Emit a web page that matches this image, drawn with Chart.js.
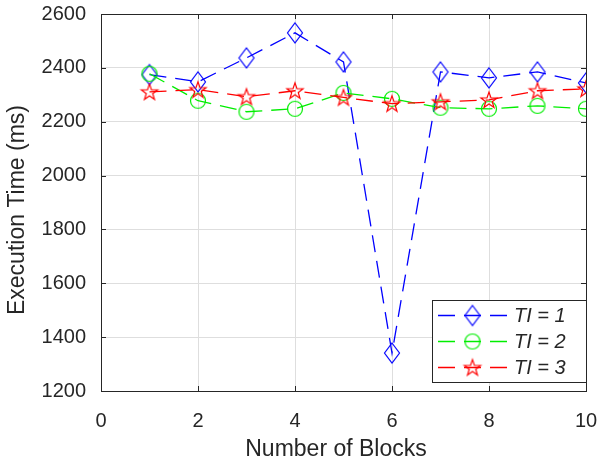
<!DOCTYPE html>
<html><head><meta charset="utf-8">
<script src="https://cdn.jsdelivr.net/npm/chart.js@4.4.1/dist/chart.umd.min.js"></script>
<style>html,body{margin:0;padding:0;background:#fff}#wrap{width:600px;height:462px;position:relative}</style>
</head><body><div id="wrap"><canvas id="c" width="600" height="462"></canvas></div>
<script>
// ---- data ----
const blocks = [1, 2, 3, 4, 5, 6, 7, 8, 9, 10];
const ti1 = [2375, 2348, 2437, 2530, 2422, 1341, 2385, 2363, 2385, 2344];
const ti2 = [2378, 2278, 2237, 2248, 2307, 2285, 2252, 2248, 2259, 2248];
const ti3 = [2311, 2319, 2293, 2315, 2290, 2267, 2274, 2281, 2315, 2322];
const seriesNames = ['TI = 1', 'TI = 2', 'TI = 3'];
const xTitle = 'Number of Blocks';
const yTitle = 'Execution Time (ms)';

const TXT = '#262626';
const FONT = '"Liberation Sans", Arial, Helvetica, sans-serif';
const DASH = [17, 9];

function makeMarker(kind, color) {
  const c = document.createElement('canvas');
  c.width = 26; c.height = 26;
  const g = c.getContext('2d');
  g.strokeStyle = color; g.lineWidth = 1.2; g.lineJoin = 'miter';
  const cx = 13, cy = 13;
  g.beginPath();
  if (kind === 'diamond') {
    g.moveTo(cx, cy - 10); g.lineTo(cx + 7.5, cy); g.lineTo(cx, cy + 10); g.lineTo(cx - 7.5, cy); g.closePath();
  } else if (kind === 'circle') {
    g.arc(cx, cy, 7.5, 0, Math.PI * 2);
  } else {
    const R = 8.5, r = 3.4;
    for (let i = 0; i < 10; i++) {
      const a = -Math.PI / 2 + i * Math.PI / 5;
      const rad = i % 2 === 0 ? R : r;
      const px = cx + rad * Math.cos(a), py = cy + 0.6 + rad * Math.sin(a);
      if (i === 0) g.moveTo(px, py); else g.lineTo(px, py);
    }
    g.closePath();
  }
  g.stroke();
  return c;
}
const colors = ['#0000ff', '#00ee00', '#ff0000'];
const markers = [makeMarker('diamond', colors[0]), makeMarker('circle', colors[1]), makeMarker('star', colors[2])];
const seriesValues = [ti1, ti2, ti3];

const datasets = seriesValues.map((vals, i) => ({
  label: seriesNames[i],
  data: blocks.map((b, k) => ({ x: b, y: vals[k] })),
  borderColor: colors[i],
  backgroundColor: 'rgba(0,0,0,0)',
  borderWidth: 1.3,
  borderDash: DASH,
  pointStyle: markers[i],
  pointRadius: 8,
  tension: 0,
  order: 3 - i
}));

const framePlugin = {
  id: 'frame',
  afterDraw(chart) {
    const ctx = chart.ctx, a = chart.chartArea;
    const xs = chart.scales.x, ys = chart.scales.y;
    ctx.save();
    // box
    ctx.strokeStyle = TXT; ctx.lineWidth = 1; ctx.setLineDash([]);
    ctx.strokeRect(Math.round(a.left) + 0.5, Math.round(a.top) + 0.5, Math.round(a.right - a.left), Math.round(a.bottom - a.top));
    // inward ticks
    ctx.beginPath();
    xs.ticks.forEach(t => {
      const px = Math.round(xs.getPixelForValue(t.value)) + 0.5;
      ctx.moveTo(px, a.bottom); ctx.lineTo(px, a.bottom - 5);
      ctx.moveTo(px, a.top); ctx.lineTo(px, a.top + 5);
    });
    ys.ticks.forEach(t => {
      const py = Math.round(ys.getPixelForValue(t.value)) + 0.5;
      ctx.moveTo(a.left, py); ctx.lineTo(a.left + 5, py);
      ctx.moveTo(a.right, py); ctx.lineTo(a.right - 5, py);
    });
    ctx.stroke();
    // axis titles
    ctx.fillStyle = TXT;
    ctx.font = '23px ' + FONT;
    ctx.textAlign = 'center'; ctx.textBaseline = 'alphabetic';
    ctx.fillText(xTitle, 336, 456);
    ctx.save();
    ctx.translate(24, 210); ctx.rotate(-Math.PI / 2);
    ctx.fillText(yTitle, 0, 0);
    ctx.restore();
    // legend
    const lx = 432, ly = 300, lw = 154, lh = 82;
    ctx.fillStyle = '#fff';
    ctx.fillRect(lx, ly, lw, lh);
    ctx.strokeStyle = TXT; ctx.lineWidth = 1;
    ctx.strokeRect(lx + 0.5, ly + 0.5, lw, lh);
    const rows = [315, 341, 367];
    seriesNames.forEach((name, i) => {
      const y = rows[i] + 0.5;
      ctx.strokeStyle = colors[i]; ctx.lineWidth = 1.3;
      ctx.setLineDash(DASH); ctx.lineDashOffset = 0;
      ctx.beginPath(); ctx.moveTo(438, y); ctx.lineTo(507, y); ctx.stroke();
      ctx.setLineDash([]);
      const m = markers[i];
      ctx.drawImage(m, 472.5 - m.width / 2, rows[i] + 0.5 - m.height / 2);
      ctx.fillStyle = TXT;
      ctx.font = 'italic 20px ' + FONT;
      ctx.textAlign = 'left'; ctx.textBaseline = 'middle';
      ctx.fillText(name, 514, rows[i] + 1);
    });
    ctx.restore();
  }
};

new Chart(document.getElementById('c'), {
  type: 'line',
  data: { datasets },
  options: {
    responsive: false,
    animation: false,
    devicePixelRatio: 1,
    events: [],
    layout: { padding: { top: 14, right: 14, left: 0, bottom: 0 } },
    plugins: { legend: { display: false }, tooltip: { enabled: false } },
    scales: {
      x: {
        type: 'linear', min: 0, max: 10,
        ticks: { stepSize: 2, color: TXT, font: { family: FONT, size: 20 }, padding: 18, maxRotation: 0, callback: v => String(v) },
        grid: { color: '#dedede', lineWidth: 1, drawTicks: false },
        border: { display: false },
        afterFit(s) { s.height = 71; s.paddingLeft = 0; s.paddingRight = 0; }
      },
      y: {
        type: 'linear', min: 1200, max: 2600,
        ticks: { stepSize: 200, color: TXT, font: { family: FONT, size: 20 }, padding: 15, callback: v => String(v) },
        grid: { color: '#dedede', lineWidth: 1, drawTicks: false },
        border: { display: false },
        afterFit(s) { s.width = 101; s.paddingTop = 0; s.paddingBottom = 0; }
      }
    }
  },
  plugins: [framePlugin]
});
</script>
</body></html>
